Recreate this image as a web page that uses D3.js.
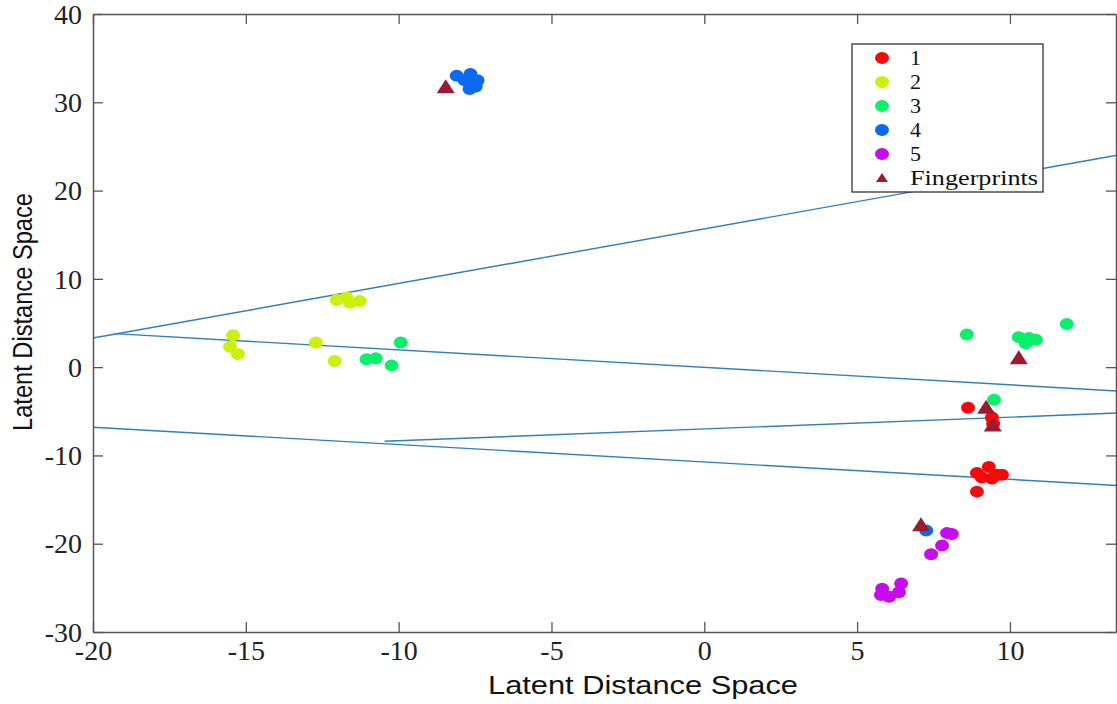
<!DOCTYPE html>
<html>
<head>
<meta charset="utf-8">
<script src="https://cdn.jsdelivr.net/npm/d3@7"></script>
<style>
  body { margin: 0; background: #fff; }
  svg { display: block; }
  .tick text { font-family: "Liberation Serif", "Times New Roman", serif !important; }
</style>
</head>
<body>
<div id="chart"></div>
<script>
// cluster points
const cluster1 = [[8.63, -4.6], [9.41, -5.7], [9.45, -6.4], [8.92, -12.0], [9.31, -11.3], [9.58, -12.2],
                  [9.08, -12.5], [9.41, -12.6], [9.74, -12.2], [8.92, -14.1]];
const cluster2 = [[-12.03, 7.6], [-11.7, 7.9], [-11.6, 7.3], [-11.27, 7.5],
                  [-15.42, 3.6], [-15.52, 2.3], [-15.26, 1.5], [-12.71, 2.8], [-12.09, 0.7]];
const cluster3 = [[-11.05, 0.9], [-10.75, 1.0], [-10.23, 0.2], [-9.93, 2.8],
                  [8.59, 3.7], [10.29, 3.4], [10.62, 3.3], [10.85, 3.1], [10.52, 2.7], [11.86, 4.9], [9.48, -3.7]];
const cluster4 = [[-8.1, 33.0], [-7.84, 32.5], [-7.65, 33.2], [-7.42, 32.5], [-7.68, 31.5], [-7.48, 31.8], [7.26, -18.5]];
const cluster5 = [[7.94, -18.8], [8.1, -18.9], [7.78, -20.2], [7.42, -21.2],
                  [5.82, -25.1], [6.44, -24.5], [6.37, -25.5], [6.05, -26.0], [5.78, -25.8]];
const fingerprints = [[-8.46, 31.7], [10.29, 1.0], [9.22, -4.6], [9.44, -6.6], [7.09, -17.9]];

// boundary lines [x1, y1, x2, y2]
const boundaries = [
  [-20, 3.3, 13.5, 24.0],
  [-19.3, 3.8, 13.5, -2.7],
  [-20, -6.8, 13.5, -13.4],
  [-10.46, -8.4, 13.5, -5.2]
];

const xTicks = [-20, -15, -10, -5, 0, 5, 10];
const yTicks = [-30, -20, -10, 0, 10, 20, 30, 40];

const series = [
  { name: "1", color: "#f50a0a", pts: cluster1 },
  { name: "2", color: "#ccf00a", pts: cluster2 },
  { name: "3", color: "#0af06a", pts: cluster3 },
  { name: "4", color: "#0a6af0", pts: cluster4 },
  { name: "5", color: "#c80af0", pts: cluster5 }
];
const fpColor = "#9c1a32";

const W = 1117, H = 704;
const x = d3.scaleLinear().domain([-20, 13.47]).range([93, 1116]);
const y = d3.scaleLinear().domain([-30, 40]).range([632, 14]);

const svg = d3.select("#chart").append("svg")
    .attr("width", W)
    .attr("height", H);

// decision boundaries
svg.append("g").selectAll("line")
    .data(boundaries)
    .enter().append("line")
    .attr("x1", d => x(d[0])).attr("y1", d => y(d[1]))
    .attr("x2", d => x(d[2])).attr("y2", d => y(d[3]))
    .attr("stroke", "#2f7fbd")
    .attr("stroke-width", 1.4);

// circles
series.forEach(s => {
  svg.append("g").selectAll("ellipse")
      .data(s.pts)
      .enter().append("ellipse")
      .attr("cx", d => x(d[0]))
      .attr("cy", d => y(d[1]))
      .attr("rx", 7)
      .attr("ry", 6)
      .attr("fill", s.color);
});

// fingerprints as triangles
const tri = "M0,-8 L9,6 L-9,6 Z";
svg.append("g").selectAll("path")
    .data(fingerprints)
    .enter().append("path")
    .attr("d", tri)
    .attr("transform", d => `translate(${x(d[0])},${y(d[1])})`)
    .attr("fill", fpColor);

// axes box with inward ticks
const frame = "#555";
const fmt = d => String(d);   // plain hyphen, like the original
const axB = svg.append("g").attr("transform", `translate(0,632)`)
    .call(d3.axisBottom(x).tickValues(xTicks).tickSizeInner(-10).tickSizeOuter(0).tickPadding(8).tickFormat(fmt));
const axT = svg.append("g").attr("transform", `translate(0,14)`)
    .call(d3.axisTop(x).tickValues(xTicks).tickSizeInner(-10).tickSizeOuter(0).tickFormat(""));
const axL = svg.append("g").attr("transform", `translate(93,0)`)
    .call(d3.axisLeft(y).tickValues(yTicks).tickSizeInner(-10).tickSizeOuter(0).tickPadding(11).tickFormat(fmt));
const axR = svg.append("g").attr("transform", `translate(1116,0)`)
    .call(d3.axisRight(y).tickValues(yTicks).tickSizeInner(-10).tickSizeOuter(0).tickFormat(""));

[axB, axT, axL, axR].forEach(a => {
  a.attr("font-family", "'Liberation Serif', 'Times New Roman', serif").attr("font-size", 28);
  a.select(".domain").attr("stroke", frame).attr("stroke-width", 1.5);
  a.selectAll(".tick line").attr("stroke", frame).attr("stroke-width", 1.3);
  a.selectAll("text").attr("fill", "#222");
});
axB.selectAll(".tick text").attr("dy", "0.72em");
axL.selectAll(".tick text").attr("dy", "0.33em");

// axis labels
svg.append("text")
    .attr("x", 643)
    .attr("y", 694)
    .attr("text-anchor", "middle")
    .attr("textLength", 310)
    .attr("lengthAdjust", "spacingAndGlyphs")
    .style("font-family", "'Liberation Sans', Arial, sans-serif")
    .style("font-size", "25px")
    .attr("fill", "#111")
    .text("Latent Distance Space");

svg.append("text")
    .attr("transform", "translate(32,312) rotate(-90)")
    .attr("text-anchor", "middle")
    .attr("textLength", 238)
    .attr("lengthAdjust", "spacingAndGlyphs")
    .style("font-family", "'Liberation Sans', Arial, sans-serif")
    .style("font-size", "27px")
    .attr("fill", "#111")
    .text("Latent Distance Space");

// legend
const legend = svg.append("g").attr("transform", "translate(852,44)");
legend.append("rect")
    .attr("width", 191)
    .attr("height", 148)
    .attr("fill", "#fff")
    .attr("stroke", "#333")
    .attr("stroke-width", 1.3);

const legendItems = series.map(s => ({ name: s.name, color: s.color, tri: false }))
    .concat([{ name: "Fingerprints", color: fpColor, tri: true }]);

legendItems.forEach((it, i) => {
  const row = legend.append("g").attr("transform", `translate(30,${14 + i * 24})`);
  if (it.tri) {
    row.append("path").attr("d", "M0,-5 L6,4 L-6,4 Z").attr("fill", it.color);
  } else {
    row.append("ellipse").attr("rx", 7).attr("ry", 6).attr("fill", it.color);
  }
  const t = row.append("text")
      .attr("x", 28)
      .attr("y", 7)
      .style("font-family", "'Liberation Serif', 'Times New Roman', serif")
      .style("font-size", "22px")
      .attr("fill", "#111")
      .text(it.name);
  if (it.tri) t.attr("textLength", 128).attr("lengthAdjust", "spacingAndGlyphs");
});
</script>
</body>
</html>
